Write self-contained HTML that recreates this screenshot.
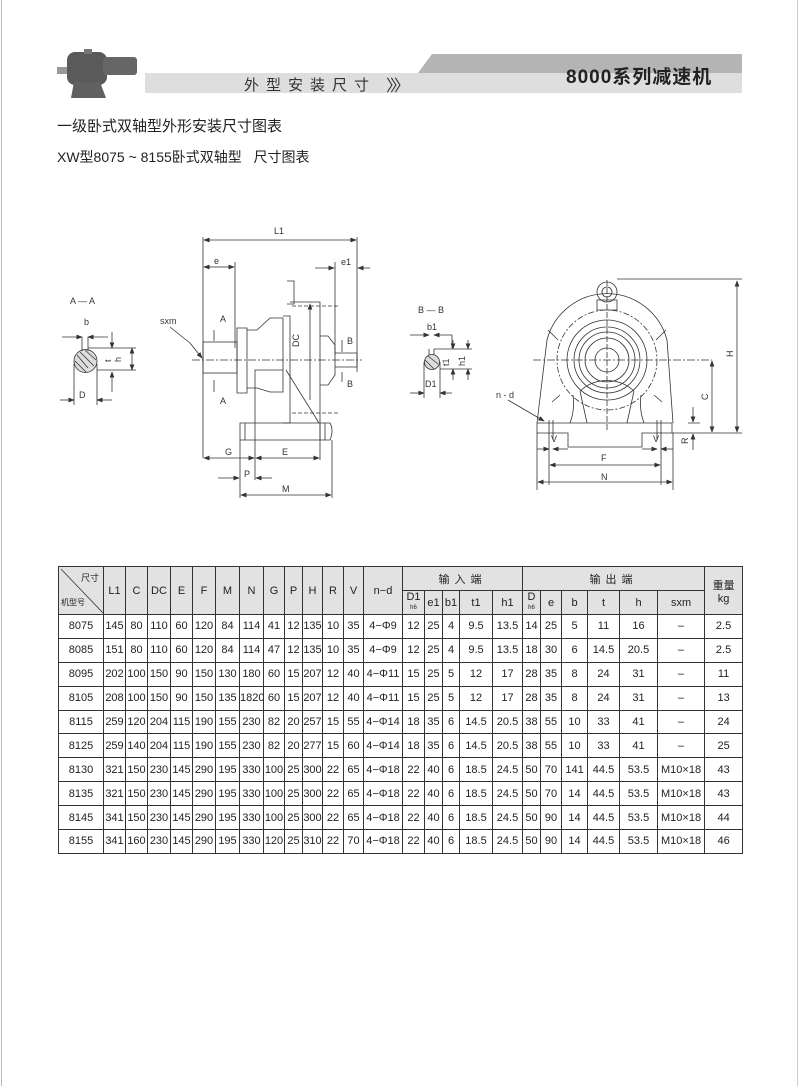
<!DOCTYPE html>
<html><head><meta charset="utf-8">
<style>
body{margin:0;width:800px;height:1086px;background:#fff;position:relative;overflow:hidden;font-family:"Liberation Sans","Noto Sans CJK SC",sans-serif;color:#222}
.abs{position:absolute}
table{border-collapse:collapse;table-layout:fixed;position:absolute;left:58px;top:566px;width:684px;font-size:11px}
td{border:1px solid #333;text-align:center;padding:0;height:23px;white-space:nowrap;overflow:hidden}
thead td{background:#e2e2e2}
tbody td{height:22.9px}
</style></head><body>
<div class="abs" style="left:1px;top:0;width:1px;height:1086px;background:#bbb"></div>
<div class="abs" style="left:797px;top:0;width:1px;height:1086px;background:#ccc"></div>
<svg class="abs" style="left:0;top:0" width="800" height="110">
<polygon points="418,73 432,54 742,54 742,73" fill="#b4b4b4"/>
<rect x="145" y="73" width="597" height="20" fill="#dedede"/>
<rect x="57" y="67" width="12" height="7" fill="#999"/>
<rect x="67" y="52" width="40" height="33" rx="8" fill="#5a5a5a"/>
<rect x="103" y="57" width="34" height="18" rx="3" fill="#666"/>
<polygon points="74,82 100,82 106,98 71,98" fill="#606060"/>
<rect x="84" y="49" width="8" height="5" fill="#777"/>
</svg>
<div class="abs" style="left:244px;top:74px;font-size:15px;letter-spacing:7px;color:#333">外型安装尺寸</div>
<div class="abs" style="left:386px;top:72px;font-size:16px;color:#333;letter-spacing:-4px">〉〉〉</div>
<div class="abs" style="left:566px;top:62px;font-size:19px;font-weight:bold;color:#222;letter-spacing:1px">8000系列减速机</div>
<div class="abs" style="left:57px;top:115px;font-size:15px;color:#222">一级卧式双轴型外形安装尺寸图表</div>
<div class="abs" style="left:57px;top:147px;font-size:14px;color:#222">XW型8075 ~ 8155卧式双轴型&nbsp;&nbsp;&nbsp;尺寸图表</div>

<svg class="abs" style="left:0;top:0" width="800" height="520" font-family="Liberation Sans,sans-serif" font-size="9" fill="none" stroke="#333" stroke-width="0.8">
<defs><marker id="a" markerWidth="8" markerHeight="6" refX="7" refY="3" orient="auto"><path d="M0,0 L8,3 L0,6z" fill="#333" stroke="none"/></marker></defs>
<g fill="#333" stroke="none">
<text x="70" y="304">A — A</text><text x="84" y="325">b</text><text x="79" y="398">D</text>
<text x="418" y="313">B — B</text><text x="427" y="330">b1</text><text x="425" y="387">D1</text>
<text x="274" y="234">L1</text><text x="214" y="264">e</text><text x="341" y="265">e1</text>
<text x="160" y="324">sxm</text><text x="220" y="322">A</text><text x="220" y="404">A</text>
<text x="347" y="344">B</text><text x="347" y="387">B</text>
<text x="225" y="455">G</text><text x="282" y="455">E</text><text x="244" y="477">P</text><text x="282" y="492">M</text>
<text x="496" y="398">n - d</text><text x="551" y="442">V</text><text x="653" y="442">V</text>
<text x="601" y="461">F</text><text x="601" y="480">N</text>
<text transform="translate(299,347) rotate(-90)">DC</text>
<text transform="translate(121,362) rotate(-90)">h</text>
<text transform="translate(111,362) rotate(-90)">t</text>
<text transform="translate(449,366) rotate(-90)">t1</text>
<text transform="translate(465,366) rotate(-90)">h1</text>
<text transform="translate(733,357) rotate(-90)">H</text>
<text transform="translate(708,400) rotate(-90)">C</text>
<text transform="translate(688,444) rotate(-90)">R</text>
</g>
<circle cx="85.5" cy="361" r="11.5" fill="#ddd"/>
<path d="M77,355 L88,368 M75,361 L86,372 M80,352 L94,366 M85,350 L96,360" />
<path d="M82,337 V351 M88,337 V351"/>
<line x1="62" y1="337" x2="82" y2="337" marker-end="url(#a)"/><line x1="108" y1="337" x2="88" y2="337" marker-end="url(#a)"/>
<path d="M88,348 H136 M97,370 H136 M74,364 V405 M97,364 V405"/>
<line x1="112" y1="332" x2="112" y2="348" marker-end="url(#a)"/><line x1="112" y1="392" x2="112" y2="372" marker-end="url(#a)"/>
<line x1="132" y1="359" x2="132" y2="348" marker-end="url(#a)"/><line x1="132" y1="359" x2="132" y2="370" marker-end="url(#a)"/>
<line x1="60" y1="400" x2="74" y2="400" marker-end="url(#a)"/><line x1="112" y1="400" x2="97" y2="400" marker-end="url(#a)"/>
<circle cx="432" cy="362" r="7.5" fill="#ddd"/>
<path d="M429,349 V355 M434,349 V355 M425,360 L434,369 M428,356 L438,364"/>
<line x1="410" y1="335" x2="429" y2="335" marker-end="url(#a)"/><line x1="452" y1="335" x2="434" y2="335" marker-end="url(#a)"/>
<path d="M434,349 H472 M440,369 H472 M424,362 V398 M440,362 V398 M452,335 V348"/>
<line x1="453" y1="340" x2="453" y2="349" marker-end="url(#a)"/><line x1="453" y1="380" x2="453" y2="369" marker-end="url(#a)"/>
<line x1="468" y1="340" x2="468" y2="349" marker-end="url(#a)"/><line x1="468" y1="380" x2="468" y2="369" marker-end="url(#a)"/>
<line x1="410" y1="393" x2="424" y2="393" marker-end="url(#a)"/><line x1="452" y1="393" x2="440" y2="393" marker-end="url(#a)"/>
<path d="M203,237 V458 M357,237 V372 M235,262 V348 M335,262 V355"/>
<line x1="280" y1="240" x2="204" y2="240" marker-end="url(#a)"/><line x1="280" y1="240" x2="356" y2="240" marker-end="url(#a)"/>
<line x1="219" y1="267" x2="204" y2="267" marker-end="url(#a)"/><line x1="219" y1="267" x2="234" y2="267" marker-end="url(#a)"/>
<line x1="315" y1="268" x2="334" y2="268" marker-end="url(#a)"/><line x1="370" y1="268" x2="358" y2="268" marker-end="url(#a)"/>
<line x1="192" y1="360" x2="362" y2="360" stroke-dasharray="8,2,2,2"/>
<rect x="203" y="342" width="34" height="31"/>
<path d="M237,328 H247 V393 H237z M247,330 H257 L270,318 H283 V392 H270 L257,388 H247"/>
<path d="M283,316 H290 V423 H283 M287,281 H294 V304 H287 M290,302 H320 V423 M283,370 H255 V423"/>
<path d="M320,336 H328 L335,345 V375 L328,385 H320 M335,353 H357 V367 H335"/>
<path d="M292,306 H340 M292,413 H340" stroke-dasharray="4,2"/>
<line x1="310" y1="400" x2="310" y2="304" marker-end="url(#a)"/>
<path d="M240,423 H330 Q334,430 330,440 H240z M245,423 V440 M255,423 V440 M320,423 V440 M325,423 V440"/>
<path d="M240,440 V498 M332,440 V498 M255,440 V480 M320,425 V460"/>
<line x1="286" y1="370" x2="319" y2="423"/>
<line x1="190" y1="343" x2="202" y2="358" marker-end="url(#a)"/><line x1="170" y1="327" x2="190" y2="343"/>
<path d="M214,330 V341 M214,380 V392 M342,340 V352 M342,372 V382"/>
<line x1="225" y1="458" x2="204" y2="458" marker-end="url(#a)"/><line x1="225" y1="458" x2="254" y2="458" marker-end="url(#a)"/>
<line x1="285" y1="458" x2="256" y2="458" marker-end="url(#a)"/><line x1="285" y1="458" x2="319" y2="458" marker-end="url(#a)"/>
<line x1="218" y1="478" x2="239" y2="478" marker-end="url(#a)"/><line x1="272" y1="478" x2="256" y2="478" marker-end="url(#a)"/>
<line x1="285" y1="495" x2="241" y2="495" marker-end="url(#a)"/><line x1="285" y1="495" x2="331" y2="495" marker-end="url(#a)"/>
<path d="M597,300 H617 V310 H597z"/><circle cx="607" cy="292" r="10"/><circle cx="607" cy="292" r="5"/>
<path d="M537,423 L547,340 A62,62 0 0 1 667,340 L673,423"/>
<circle cx="607" cy="360" r="50" stroke-dasharray="6,2,2,2"/>
<circle cx="607" cy="360" r="40"/><circle cx="607" cy="360" r="33"/><circle cx="607" cy="360" r="28"/><circle cx="607" cy="360" r="22"/><circle cx="607" cy="360" r="12"/>
<path d="M573,395 Q575,410 570,423 M641,395 Q639,410 644,423 M580,391 L587,423 M634,391 L627,423 M580,391 A40,40 0 0 1 634,391"/>
<path d="M558,340 L548,330 M656,340 L666,330 M560,395 L552,402 M654,395 L662,402"/>
<line x1="533" y1="360" x2="712" y2="360" stroke-dasharray="8,2,2,2"/>
<line x1="607" y1="280" x2="607" y2="430" stroke-dasharray="6,2"/>
<path d="M537,423 H672 V433 H642 V447 H568 V433 H537z"/>
<path d="M549,420 V485 M553,420 V440 M661,420 V485 M657,420 V440 M537,433 V490 M673,433 V490"/>
<path d="M617,279 H742 M672,433 H742 M688,423 H700"/>
<line x1="737" y1="350" x2="737" y2="281" marker-end="url(#a)"/><line x1="737" y1="350" x2="737" y2="432" marker-end="url(#a)"/>
<line x1="712" y1="395" x2="712" y2="361" marker-end="url(#a)"/><line x1="712" y1="395" x2="712" y2="432" marker-end="url(#a)"/>
<line x1="693" y1="407" x2="693" y2="422" marker-end="url(#a)"/><line x1="693" y1="450" x2="693" y2="434" marker-end="url(#a)"/>
<line x1="508" y1="400" x2="544" y2="421" marker-end="url(#a)"/>
<line x1="537" y1="449" x2="549" y2="449" marker-end="url(#a)"/><line x1="568" y1="449" x2="553" y2="449" marker-end="url(#a)"/>
<line x1="642" y1="449" x2="657" y2="449" marker-end="url(#a)"/><line x1="673" y1="449" x2="661" y2="449" marker-end="url(#a)"/>
<line x1="605" y1="465" x2="550" y2="465" marker-end="url(#a)"/><line x1="605" y1="465" x2="660" y2="465" marker-end="url(#a)"/>
<line x1="605" y1="482" x2="538" y2="482" marker-end="url(#a)"/><line x1="605" y1="482" x2="672" y2="482" marker-end="url(#a)"/>
</svg>

<table>
<colgroup><col style="width:45px"><col style="width:22px"><col style="width:22px"><col style="width:23px"><col style="width:22px"><col style="width:23px"><col style="width:24px"><col style="width:24px"><col style="width:21px"><col style="width:18px"><col style="width:20px"><col style="width:21px"><col style="width:20px"><col style="width:39px"><col style="width:22px"><col style="width:18px"><col style="width:17px"><col style="width:33px"><col style="width:30px"><col style="width:18px"><col style="width:21px"><col style="width:26px"><col style="width:32px"><col style="width:38px"><col style="width:47px"><col style="width:38px"></colgroup>
<thead>
<tr><td rowspan="2" style="position:relative;font-size:9px"><svg style="position:absolute;left:0;top:0" width="45" height="48"><line x1="2" y1="2" x2="44" y2="46" stroke="#333" stroke-width="0.8"/></svg><span style="position:absolute;right:4px;top:4px">尺寸</span><span style="position:absolute;left:2px;bottom:6px;font-size:8px">机型号</span></td>
<td rowspan="2">L1</td><td rowspan="2">C</td><td rowspan="2">DC</td><td rowspan="2">E</td><td rowspan="2">F</td><td rowspan="2">M</td><td rowspan="2">N</td><td rowspan="2">G</td><td rowspan="2">P</td><td rowspan="2">H</td><td rowspan="2">R</td><td rowspan="2">V</td><td rowspan="2">n−d</td>
<td colspan="5" style="letter-spacing:5px">输入端</td><td colspan="6" style="letter-spacing:5px">输出端</td><td rowspan="2">重量<br>kg</td></tr>
<tr><td style="line-height:9px">D1<br><span style="font-size:6px">h6</span></td><td>e1</td><td>b1</td><td>t1</td><td>h1</td><td style="line-height:9px">D<br><span style="font-size:6px">h6</span></td><td>e</td><td>b</td><td>t</td><td>h</td><td>sxm</td></tr>
</thead>
<tbody>
<tr><td>8075</td><td>145</td><td>80</td><td>110</td><td>60</td><td>120</td><td>84</td><td>114</td><td>41</td><td>12</td><td>135</td><td>10</td><td>35</td><td>4−Φ9</td><td>12</td><td>25</td><td>4</td><td>9.5</td><td>13.5</td><td>14</td><td>25</td><td>5</td><td>11</td><td>16</td><td>–</td><td>2.5</td></tr>
<tr><td>8085</td><td>151</td><td>80</td><td>110</td><td>60</td><td>120</td><td>84</td><td>114</td><td>47</td><td>12</td><td>135</td><td>10</td><td>35</td><td>4−Φ9</td><td>12</td><td>25</td><td>4</td><td>9.5</td><td>13.5</td><td>18</td><td>30</td><td>6</td><td>14.5</td><td>20.5</td><td>–</td><td>2.5</td></tr>
<tr><td>8095</td><td>202</td><td>100</td><td>150</td><td>90</td><td>150</td><td>130</td><td>180</td><td>60</td><td>15</td><td>207</td><td>12</td><td>40</td><td>4−Φ11</td><td>15</td><td>25</td><td>5</td><td>12</td><td>17</td><td>28</td><td>35</td><td>8</td><td>24</td><td>31</td><td>–</td><td>11</td></tr>
<tr><td>8105</td><td>208</td><td>100</td><td>150</td><td>90</td><td>150</td><td>135</td><td>1820</td><td>60</td><td>15</td><td>207</td><td>12</td><td>40</td><td>4−Φ11</td><td>15</td><td>25</td><td>5</td><td>12</td><td>17</td><td>28</td><td>35</td><td>8</td><td>24</td><td>31</td><td>–</td><td>13</td></tr>
<tr><td>8115</td><td>259</td><td>120</td><td>204</td><td>115</td><td>190</td><td>155</td><td>230</td><td>82</td><td>20</td><td>257</td><td>15</td><td>55</td><td>4−Φ14</td><td>18</td><td>35</td><td>6</td><td>14.5</td><td>20.5</td><td>38</td><td>55</td><td>10</td><td>33</td><td>41</td><td>–</td><td>24</td></tr>
<tr><td>8125</td><td>259</td><td>140</td><td>204</td><td>115</td><td>190</td><td>155</td><td>230</td><td>82</td><td>20</td><td>277</td><td>15</td><td>60</td><td>4−Φ14</td><td>18</td><td>35</td><td>6</td><td>14.5</td><td>20.5</td><td>38</td><td>55</td><td>10</td><td>33</td><td>41</td><td>–</td><td>25</td></tr>
<tr><td>8130</td><td>321</td><td>150</td><td>230</td><td>145</td><td>290</td><td>195</td><td>330</td><td>100</td><td>25</td><td>300</td><td>22</td><td>65</td><td>4−Φ18</td><td>22</td><td>40</td><td>6</td><td>18.5</td><td>24.5</td><td>50</td><td>70</td><td>141</td><td>44.5</td><td>53.5</td><td>M10×18</td><td>43</td></tr>
<tr><td>8135</td><td>321</td><td>150</td><td>230</td><td>145</td><td>290</td><td>195</td><td>330</td><td>100</td><td>25</td><td>300</td><td>22</td><td>65</td><td>4−Φ18</td><td>22</td><td>40</td><td>6</td><td>18.5</td><td>24.5</td><td>50</td><td>70</td><td>14</td><td>44.5</td><td>53.5</td><td>M10×18</td><td>43</td></tr>
<tr><td>8145</td><td>341</td><td>150</td><td>230</td><td>145</td><td>290</td><td>195</td><td>330</td><td>100</td><td>25</td><td>300</td><td>22</td><td>65</td><td>4−Φ18</td><td>22</td><td>40</td><td>6</td><td>18.5</td><td>24.5</td><td>50</td><td>90</td><td>14</td><td>44.5</td><td>53.5</td><td>M10×18</td><td>44</td></tr>
<tr><td>8155</td><td>341</td><td>160</td><td>230</td><td>145</td><td>290</td><td>195</td><td>330</td><td>120</td><td>25</td><td>310</td><td>22</td><td>70</td><td>4−Φ18</td><td>22</td><td>40</td><td>6</td><td>18.5</td><td>24.5</td><td>50</td><td>90</td><td>14</td><td>44.5</td><td>53.5</td><td>M10×18</td><td>46</td></tr>
</tbody>
</table>
</body></html>
